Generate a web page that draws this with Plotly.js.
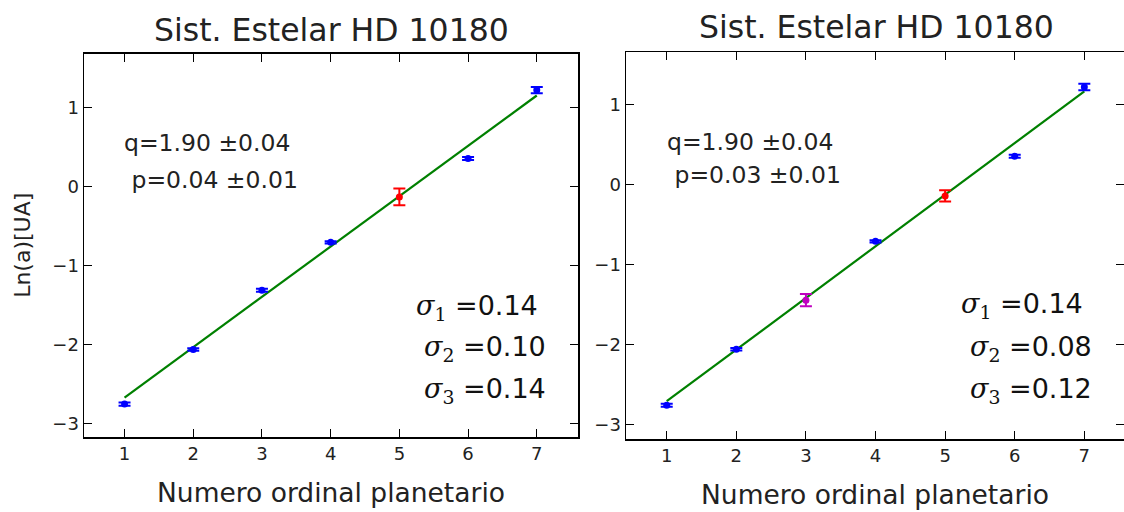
<!DOCTYPE html>
<html>
<head>
<meta charset="utf-8">
<script src="https://cdn.plot.ly/plotly-3.0.1.min.js"></script>
<style>html,body{margin:0;padding:0;background:#fff;}#chart{width:1124px;height:512px;}</style>
</head>
<body>
<div id="chart"></div>
<script>
// ---- data ----
const xTicks = [1, 2, 3, 4, 5, 6, 7];
const yTicks = [-3, -2, -1, 0, 1];
const yTickText = ["\u22123", "\u22122", "\u22121", "0", "1"];

// left panel
const leftBlueX = [1, 2, 3, 4, 6, 7];
const leftBlueY = [-2.75, -2.06, -1.31, -0.705, 0.355, 1.22];
const leftBlueErr = [0.02, 0.015, 0.02, 0.015, 0.02, 0.04];
const leftRedX = [5];
const leftRedY = [-0.13];
const leftRedErr = [0.105];
const leftFitX = [1, 7];
const leftFitY = [-2.667, 1.152];

// right panel
const rightBlueX = [1, 2, 4, 6, 7];
const rightBlueY = [-2.76, -2.06, -0.71, 0.354, 1.22];
const rightBlueErr = [0.02, 0.015, 0.015, 0.02, 0.04];
const rightMagX = [3];
const rightMagY = [-1.446];
const rightMagErr = [0.077];
const rightRedX = [5];
const rightRedY = [-0.142];
const rightRedErr = [0.07];
const rightFitX = [1, 7];
const rightFitY = [-2.709, 1.165];

const titleText = "Sist. Estelar HD 10180";
const xLabel = "Numero ordinal planetario";
const yLabel = "Ln(a)[UA]";
const leftQ = "q=1.90 \u00b10.04", leftP = "p=0.04 \u00b10.01";
const rightQ = "q=1.90 \u00b10.04", rightP = "p=0.03 \u00b10.01";
const leftSig = ["0.14", "0.10", "0.14"];
const rightSig = ["0.14", "0.08", "0.12"];

// ---- helpers ----
const FONT = "DejaVu Sans, Verdana, sans-serif";
function pts(x, y, err, color, xa, ya) {
  return {
    x: x, y: y, xaxis: xa, yaxis: ya, type: "scatter", mode: "markers",
    marker: {color: color, size: 7, line: {width: 0}},
    error_y: {type: "data", array: err, visible: true, color: color, thickness: 2, width: 6},
    showlegend: false, hoverinfo: "x+y"
  };
}
function fit(x, y, xa, ya) {
  return {x: x, y: y, xaxis: xa, yaxis: ya, type: "scatter", mode: "lines",
    line: {color: "#008000", width: 2.2}, showlegend: false};
}
const traces = [
  fit(leftFitX, leftFitY, "x", "y"),
  pts(leftBlueX, leftBlueY, leftBlueErr, "#0000ff", "x", "y"),
  pts(leftRedX, leftRedY, leftRedErr, "#ff0000", "x", "y"),
  fit(rightFitX, rightFitY, "x2", "y2"),
  pts(rightBlueX, rightBlueY, rightBlueErr, "#0000ff", "x2", "y2"),
  pts(rightMagX, rightMagY, rightMagErr, "#bf00bf", "x2", "y2"),
  pts(rightRedX, rightRedY, rightRedErr, "#ff0000", "x2", "y2")
];

const W = 1124, H = 512;
function px(x) { return x / W; }
function py(y) { return 1 - y / H; }

function xAxis(domain, range, anchor, title) {
  return {
    domain: domain, range: range, anchor: anchor,
    tickvals: xTicks, ticktext: xTicks.map(String),
    ticks: "inside", ticklen: 8, tickwidth: 1, tickcolor: "#000",
    showline: true, linecolor: "#000", linewidth: 1.5, mirror: "ticks",
    showgrid: false, zeroline: false,
    tickfont: {family: FONT, size: 18, color: "#222"},
    title: {text: title, font: {family: FONT, size: 26.5, color: "#222"}, standoff: 20},
    automargin: false
  };
}
function yAxis(domain, range, anchor, title) {
  return {
    domain: domain, range: range, anchor: anchor,
    tickvals: yTicks, ticktext: yTickText,
    ticks: "inside", ticklen: 8, tickwidth: 1, tickcolor: "#000",
    showline: true, linecolor: "#000", linewidth: 1.5, mirror: "ticks",
    showgrid: false, zeroline: false,
    tickfont: {family: FONT, size: 18, color: "#222"},
    title: {text: title, font: {family: FONT, size: 22, color: "#222"}},
    automargin: false
  };
}

function sigText(i, v) {
  return "<span style=\"font-family:'DejaVu Serif'\"><i>\u03c3</i><sub>" + i + "</sub></span> =" + v;
}

const annotations = [];
function panelAnn(cx, titleY, q, p, qx, qy, py2, sig, sx, sy) {
  annotations.push({text: titleText, x: px(cx), y: py(titleY), xref: "paper", yref: "paper",
    xanchor: "center", yanchor: "middle", showarrow: false,
    font: {family: FONT, size: 31.5, color: "#222"}});
  annotations.push({text: q, x: px(qx), y: py(qy), xref: "paper", yref: "paper",
    xanchor: "left", yanchor: "middle", showarrow: false,
    font: {family: FONT, size: 23.5, color: "#222"}});
  annotations.push({text: " " + p, x: px(qx), y: py(py2), xref: "paper", yref: "paper",
    xanchor: "left", yanchor: "middle", showarrow: false,
    font: {family: FONT, size: 23.5, color: "#222"}});
  for (let i = 0; i < 3; i++) {
    annotations.push({text: sigText(i + 1, sig[i]), x: px(sx[i]), y: py(sy[i]), xref: "paper", yref: "paper",
      xanchor: "right", yanchor: "middle", showarrow: false,
      font: {family: FONT, size: 27, color: "#111"}});
  }
}
panelAnn(331, 30, leftQ, leftP, 122, 143, 180, leftSig, [540, 548, 548], [307, 348, 390]);
panelAnn(876, 27, rightQ, rightP, 665, 142, 175, rightSig, [1085, 1094, 1094], [305, 348, 390]);

const layout = {
  width: W, height: H,
  margin: {l: 0, r: 0, t: 0, b: 0},
  paper_bgcolor: "#fff", plot_bgcolor: "#fff",
  xaxis: xAxis([px(84), px(578)], [0.41, 7.6], "y", xLabel),
  yaxis: yAxis([1 - 437 / H, 1 - 53.5 / H], [-3.166, 1.683], "x", yLabel),
  xaxis2: xAxis([px(626), 1], [0.415, 7.57], "y2", xLabel),
  yaxis2: yAxis([1 - 439 / H, 1 - 52 / H], [-3.182, 1.658], "x2", ""),
  annotations: annotations,
  showlegend: false
};

Plotly.newPlot("chart", traces, layout, {displayModeBar: false, staticPlot: true});
</script>
</body>
</html>
